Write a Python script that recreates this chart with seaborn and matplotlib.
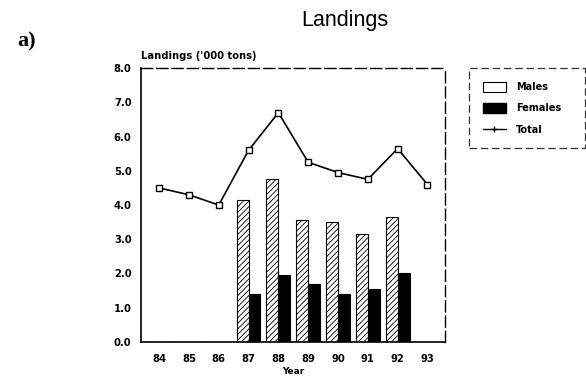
import numpy as np
import pandas as pd
import matplotlib
matplotlib.use("Agg")
import matplotlib.pyplot as plt
import seaborn as sns
from matplotlib.patches import Patch
from matplotlib.lines import Line2D

years = ["84", "85", "86", "87", "88", "89", "90", "91", "92", "93"]
males = [0.0, 0.0, 0.0, 4.15, 4.75, 3.55, 3.5, 3.15, 3.65, 0.0]
females = [0.0, 0.0, 0.0, 1.4, 1.95, 1.7, 1.4, 1.55, 2.0, 0.0]
total = [4.5, 4.3, 4.0, 5.6, 6.7, 5.25, 4.95, 4.75, 5.65, 4.6]
yticks = [0.0, 1.0, 2.0, 3.0, 4.0, 5.0, 6.0, 7.0, 8.0]

sns.set_style("white")
plt.rcParams["font.family"] = ["DejaVu Sans"]
plt.rcParams["hatch.linewidth"] = 0.6
for key in ("text.color", "axes.labelcolor", "xtick.color", "ytick.color"):
    plt.rcParams[key] = "black"

df = pd.DataFrame({
    "Year": years * 2,
    "Landings": males + females,
    "Sex": ["Males"] * len(years) + ["Females"] * len(years),
})

fig = plt.figure(figsize=(5.86, 3.79), dpi=100)
ax = fig.add_axes([0.241, 0.098, 0.519, 0.722])

sns.barplot(data=df, x="Year", y="Landings", hue="Sex", order=years,
            hue_order=["Males", "Females"], palette=["white", "black"],
            edgecolor="black", linewidth=0.8, width=0.8, ax=ax, legend=False)
for p in ax.patches[:len(years)]:
    p.set_hatch("//////")

sns.lineplot(x=np.arange(len(years)), y=total, color="black", linewidth=1.2,
             marker="s", markersize=5, markerfacecolor="white",
             markeredgecolor="black", markeredgewidth=1.0, ax=ax)

ax.set_xlim(-0.6, len(years) - 0.4)
ax.set_ylim(0, 8)
ax.set_yticks(yticks)
ax.set_yticklabels([f"{v:.1f}" for v in yticks], fontsize=7.2, fontweight="bold")
ax.set_xticks(np.arange(len(years)))
ax.set_xticklabels(years, fontsize=7.2, fontweight="bold")
ax.tick_params(axis="y", length=3, width=1, direction="out", pad=4)
ax.tick_params(axis="x", direction="inout", length=6, width=1, pad=6)
ax.set_xlabel("Year", fontsize=6.5, fontweight="bold", labelpad=2)
ax.set_ylabel("")

for s in ("left", "bottom"):
    ax.spines[s].set_linewidth(1.2)
    ax.spines[s].set_color("black")
for s in ("top", "right"):
    ax.spines[s].set_linewidth(1.0)
    ax.spines[s].set_linestyle((0, (8, 3)))
    ax.spines[s].set_color("black")

ax.text(0.0, 1.025, "Landings ('000 tons)", transform=ax.transAxes,
        fontsize=7.2, fontweight="bold", ha="left", va="bottom")

fig.text(0.589, 0.945, "Landings", fontsize=15.5,
         family=["Liberation Sans", "DejaVu Sans"], ha="center", va="center")
fig.text(0.029, 0.89, "a)", fontsize=16, fontweight="bold",
         family=["Liberation Serif", "DejaVu Serif"], ha="left", va="center")

handles = [
    Patch(facecolor="white", edgecolor="black", linewidth=0.8, label="Males"),
    Patch(facecolor="black", edgecolor="black", label="Females"),
    Line2D([0], [0], color="black", linewidth=1.0, marker="+", markersize=5,
           label="Total"),
]
leg = fig.legend(handles=handles, loc="upper left",
                 bbox_to_anchor=(469 / 586, 1 - 148 / 379, 116 / 586, 80 / 379),
                 mode="expand", frameon=True, fancybox=False,
                 edgecolor="black", fontsize=7, handlelength=2.4,
                 handleheight=1.2, handletextpad=1.0, borderpad=1.4,
                 labelspacing=1.15, borderaxespad=0)
for t in leg.get_texts():
    t.set_fontweight("bold")
leg.get_frame().set_linestyle((0, (6, 3)))
leg.get_frame().set_linewidth(0.9)

fig.savefig("out.png", dpi=100)
